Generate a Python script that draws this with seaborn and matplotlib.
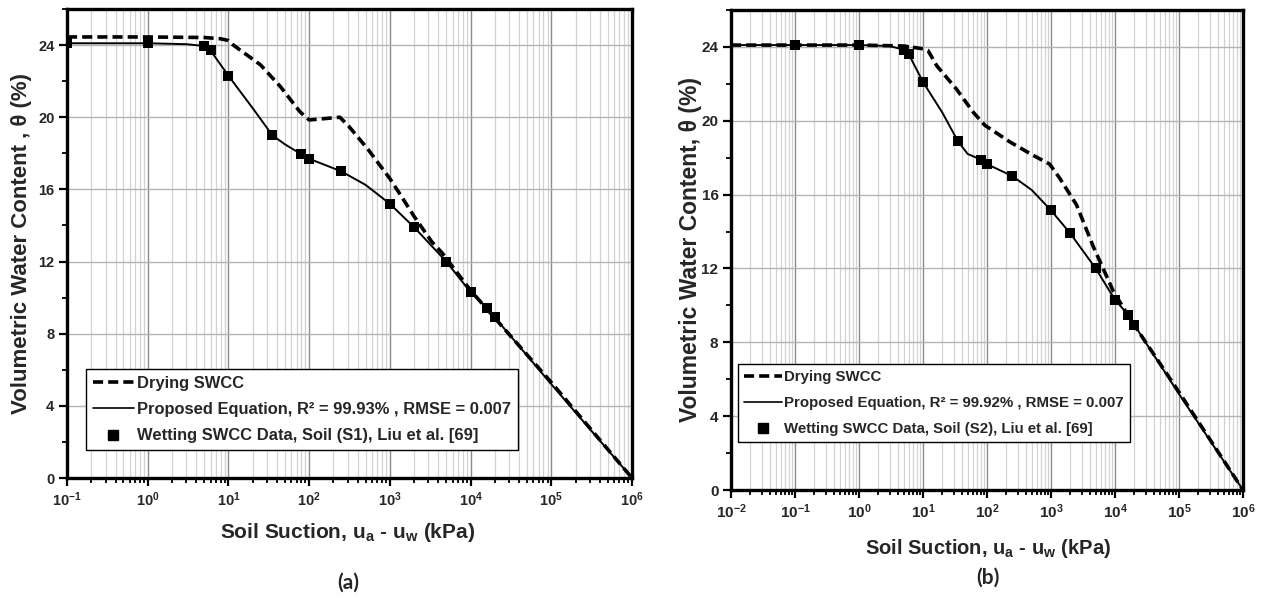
import matplotlib
matplotlib.use("Agg")
import matplotlib.pyplot as plt
import seaborn as sns
from matplotlib.ticker import FixedLocator, LogLocator, NullFormatter, MultipleLocator, LogFormatterSciNotation
from matplotlib.lines import Line2D

# ---------------- data ----------------
wet_suction = [0.1, 1, 5, 6, 10, 35, 80, 100, 250, 1000, 2000, 5000, 10000, 16000, 20000]
wet_s1 = [24.1, 24.1, 23.95, 23.7, 22.3, 19.0, 17.95, 17.7, 17.0, 15.2, 13.9, 12.0, 10.3, 9.4, 8.9]
wet_s2 = [24.1, 24.1, 23.85, 23.6, 22.1, 18.9, 17.9, 17.65, 17.0, 15.15, 13.9, 12.0, 10.3, 9.5, 8.95]

fit_s1_suction = [0.1, 1, 3, 5, 6, 10, 20, 35, 50, 80, 100, 250, 500, 1000, 2000, 5000,
                  10000, 16000, 20000, 1e5, 1e6]
fit_s1 = [24.1, 24.1, 24.05, 23.95, 23.7, 22.3, 20.5, 19.0, 18.5, 17.95, 17.7, 17.0, 16.25,
          15.2, 13.9, 12.0, 10.3, 9.4, 8.9, 5.2, 0.0]

fit_s2_suction = [0.01, 0.1, 1, 3, 5, 6, 10, 20, 35, 50, 80, 100, 250, 500, 1000, 2000, 5000,
                  10000, 16000, 20000, 1e5, 1e6]
fit_s2 = [24.1, 24.1, 24.1, 24.05, 23.85, 23.6, 22.1, 20.45, 18.9, 18.2, 17.9, 17.65, 17.0,
          16.25, 15.15, 13.9, 12.0, 10.3, 9.5, 8.95, 5.2, 0.0]

dry_s1_suction = [0.1, 1, 5, 8, 10, 11.5, 25, 44, 77, 100, 136, 240, 310, 540, 1000, 1350,
                  2000, 3300, 4400, 10000, 1e5, 1e6]
dry_s1 = [24.45, 24.45, 24.42, 24.35, 24.25, 24.0, 22.9, 21.7, 20.3, 19.85, 19.9, 20.0, 19.5,
          18.2, 16.6, 15.7, 14.5, 13.1, 12.5, 10.4, 5.3, 0.0]

dry_s2_suction = [0.01, 1, 5, 10, 12, 16.4, 33.6, 61, 93, 229, 525, 955, 1380, 2500, 4560,
                  9400, 17000, 1e5, 1e6]
dry_s2 = [24.1, 24.1, 24.05, 23.9, 23.8, 22.98, 21.7, 20.46, 19.75, 18.85, 18.13, 17.65, 16.87,
          15.45, 13.2, 10.77, 9.3, 5.3, 0.0]

y_ticks = [0, 4, 8, 12, 16, 20, 24]
x_ticks_a = [1e-1, 1e0, 1e1, 1e2, 1e3, 1e4, 1e5, 1e6]
x_ticks_b = [1e-2, 1e-1, 1e0, 1e1, 1e2, 1e3, 1e4, 1e5, 1e6]
legend_dry = "Drying SWCC"
legend_fit = ["Proposed Equation, R\u00b2 = 99.93% , RMSE = 0.007",
              "Proposed Equation, R\u00b2 = 99.92% , RMSE = 0.007"]
legend_wet = ["Wetting SWCC Data, Soil (S1), Liu et al. [69]",
              "Wetting SWCC Data, Soil (S2), Liu et al. [69]"]
ylabels = ["Volumetric Water Content , \u03b8 (%)", "Volumetric Water Content, \u03b8 (%)"]
xlabel = "Soil Suction, u$_{a}$ - u$_{w}$ (kPa)"
panel_tags = ["(a)", "(b)"]

# ---------------- style ----------------
sns.set_theme(style="ticks")
plt.rcParams["font.family"] = ["Liberation Sans", "DejaVu Sans"]
plt.rcParams["font.weight"] = "bold"
plt.rcParams["axes.labelweight"] = "bold"
plt.rcParams["mathtext.fontset"] = "custom"
plt.rcParams["mathtext.rm"] = "Liberation Sans:bold"
plt.rcParams["mathtext.it"] = "Liberation Sans:bold"
plt.rcParams["mathtext.bf"] = "Liberation Sans:bold"
plt.rcParams["mathtext.sf"] = "Liberation Sans:bold"

W, H = 1265, 604
fig = plt.figure(figsize=(W / 100, H / 100), dpi=100)

def px_axes(l, r, t, b):
    return [l / W, 1 - b / H, (r - l) / W, (b - t) / H]

ax1 = fig.add_axes(px_axes(67, 632, 9, 478))
ax2 = fig.add_axes(px_axes(731, 1243, 10, 490))

DASH = (0, (2.8, 1.4))

configs = [
    dict(ax=ax1, fit_x=fit_s1_suction, fit_y=fit_s1, dry_x=dry_s1_suction, dry_y=dry_s1,
         wet_y=wet_s1, xlim=(0.1, 1e6), xticks=x_ticks_a, tick_fs=10.5, xlab_fs=15,
         ylab_fs=16, ylab_pos=(-0.081, 0.5), xlab_pos=(0.497, -0.117),
         leg_box=(86, 450), leg_fs=11.9, leg_space=0.68, tag_pos=(348, 583)),
    dict(ax=ax2, fit_x=fit_s2_suction, fit_y=fit_s2, dry_x=dry_s2_suction, dry_y=dry_s2,
         wet_y=wet_s2, xlim=(0.01, 1e6), xticks=x_ticks_b, tick_fs=11, xlab_fs=14.5,
         ylab_fs=16.5, ylab_pos=(-0.080, 0.5), xlab_pos=(0.502, -0.121),
         leg_box=(738, 442), leg_fs=10.8, leg_space=0.8, tag_pos=(988, 578)),
]

for i, c in enumerate(configs):
    ax = c["ax"]
    ax.set_xscale("log")
    sns.lineplot(x=c["dry_x"], y=c["dry_y"], ax=ax, color="black", lw=2.6,
                 linestyle=DASH, sort=False, estimator=None)
    sns.lineplot(x=c["fit_x"], y=c["fit_y"], ax=ax, color="black", lw=1.4,
                 sort=False, estimator=None)
    sns.scatterplot(x=wet_suction, y=c["wet_y"], ax=ax, color="black", marker="s",
                    s=60, edgecolor="black", linewidth=0, zorder=5)
    ax.set_xlim(*c["xlim"])
    ax.set_ylim(0, 26)
    ax.set_yticks(y_ticks)
    ax.yaxis.set_minor_locator(MultipleLocator(2))
    ax.xaxis.set_major_locator(FixedLocator(c["xticks"]))
    ax.xaxis.set_minor_locator(LogLocator(base=10, subs=range(2, 10), numticks=50))
    ax.xaxis.set_major_formatter(LogFormatterSciNotation())
    ax.xaxis.set_minor_formatter(NullFormatter())
    ax.grid(True, which="major", axis="x", color="#8c8c8c", lw=1.0)
    ax.grid(True, which="minor", axis="x", color="#d2d2d2", lw=0.9)
    ax.grid(True, which="major", axis="y", color="#b4b4b4", lw=1.0)
    ax.set_axisbelow(True)
    for s in ax.spines.values():
        s.set_linewidth(2.4)
        s.set_color("black")
        s.set_visible(True)
    ax.tick_params(axis="both", which="major", direction="out", length=6, width=1.6,
                   labelsize=c["tick_fs"], color="black", top=False, right=False, pad=3)
    ax.tick_params(axis="both", which="minor", direction="out", length=3.5, width=1.3,
                   color="black", top=False, right=False)
    for lab in ax.get_xticklabels() + ax.get_yticklabels():
        lab.set_fontweight("bold")
    ax.set_xlabel(xlabel, fontsize=c["xlab_fs"], fontweight="bold")
    ax.set_ylabel(ylabels[i], fontsize=c["ylab_fs"], fontweight="bold")
    ax.xaxis.set_label_coords(*c["xlab_pos"])
    ax.xaxis.label.set_va("center")
    ax.yaxis.set_label_coords(*c["ylab_pos"])
    ax.yaxis.label.set_va("center")

    handles = [
        Line2D([], [], color="black", lw=2.6, linestyle=DASH),
        Line2D([], [], color="black", lw=1.2),
        Line2D([], [], color="black", lw=0, marker="s", markersize=7),
    ]
    labels = [legend_dry, legend_fit[i], legend_wet[i]]
    lx, ly = c["leg_box"]
    leg = ax.legend(handles, labels, loc="lower left",
                    bbox_to_anchor=(lx / W, 1 - ly / H), bbox_transform=fig.transFigure,
                    borderaxespad=0, frameon=True, fancybox=False, framealpha=1,
                    edgecolor="black", prop={"weight": "bold", "size": c["leg_fs"]},
                    handlelength=2.5, handletextpad=0.2, labelspacing=c["leg_space"],
                    borderpad=0.4)
    leg.get_frame().set_linewidth(1.0)
    leg.set_zorder(10)

    fig.text(c["tag_pos"][0] / W, 1 - c["tag_pos"][1] / H, panel_tags[i],
             ha="center", va="center", fontsize=15, fontweight="bold",
             family=["Lato", "DejaVu Sans"])

fig.savefig("out.png", dpi=100)
